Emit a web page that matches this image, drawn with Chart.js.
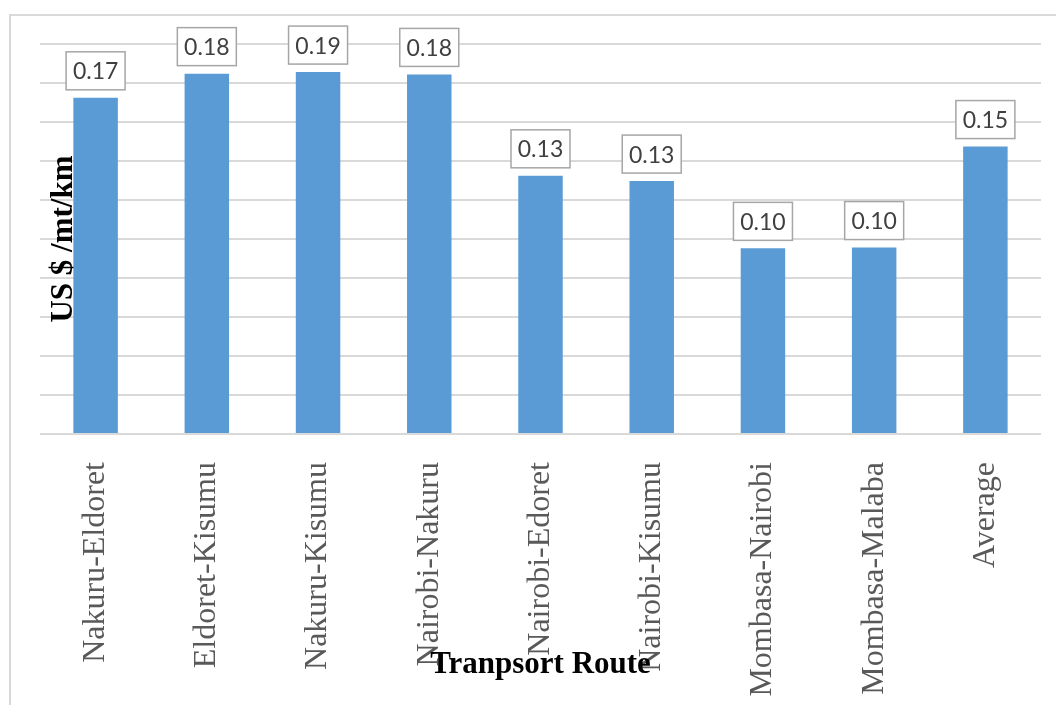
<!DOCTYPE html>
<html>
<head>
<meta charset="utf-8">
<title>Transport cost per route</title>
<script src="https://cdn.jsdelivr.net/npm/chart.js@4.4.1/dist/chart.umd.min.js"></script>
<style>
  html, body { margin: 0; padding: 0; background: #ffffff; }
  #wrap { width: 1056px; height: 705px; position: relative; }
</style>
</head>
<body>
<div id="wrap"><canvas id="chart" width="1056" height="705"></canvas></div>
<script>
// Transport routes and cost per tonne-kilometre (US$)
const routes = [
  'Nakuru-Eldoret', 'Eldoret-Kisumu', 'Nakuru-Kisumu', 'Nairobi-Nakuru',
  'Nairobi-Edoret', 'Nairobi-Kisumu', 'Mombasa-Nairobi', 'Mombasa-Malaba', 'Average'
];
const costPerTonneKm = [0.1724, 0.1848, 0.1856, 0.1844, 0.1324, 0.1297, 0.0952, 0.0956, 0.1474];
const yAxisTitle = 'US $ /mt/km';
const xAxisTitle = 'Tranpsort Route';

const SERIF = '"Liberation Serif", "Times New Roman", serif';

// Light frame around the whole figure
const framePlugin = {
  id: 'frame',
  beforeDraw(chart) {
    const ctx = chart.ctx;
    ctx.save();
    ctx.fillStyle = '#ffffff';
    ctx.fillRect(0, 0, chart.width, chart.height);
    ctx.strokeStyle = '#d9d9d9';
    ctx.lineWidth = 2;
    ctx.strokeRect(10, 15, chart.width + 20, chart.height + 20);
    ctx.restore();
  }
};

// Axis titles drawn inside the plot region
const titlesPlugin = {
  id: 'axisTitles',
  beforeDatasetsDraw(chart) {
    const ctx = chart.ctx;
    const area = chart.chartArea;
    ctx.save();
    ctx.font = 'bold 31px ' + SERIF;
    ctx.fillStyle = '#000000';
    ctx.textAlign = 'center';
    ctx.textBaseline = 'alphabetic';
    ctx.translate(72, (area.top + area.bottom) / 2);
    ctx.rotate(-Math.PI / 2);
    ctx.fillText(yAxisTitle, 0, 0);
    ctx.restore();
  },
  afterDraw(chart) {
    const ctx = chart.ctx;
    const area = chart.chartArea;
    ctx.save();
    ctx.font = 'bold 31px ' + SERIF;
    ctx.fillStyle = '#000000';
    ctx.textAlign = 'center';
    ctx.textBaseline = 'alphabetic';
    ctx.fillText(xAxisTitle, (area.left + area.right) / 2, 673);
    ctx.restore();
  }
};

// Boxed value labels above each bar
const valueLabelPlugin = {
  id: 'valueLabels',
  afterDatasetsDraw(chart) {
    const ctx = chart.ctx;
    const meta = chart.getDatasetMeta(0);
    const values = chart.data.datasets[0].data;
    ctx.save();
    meta.data.forEach((bar, i) => {
      const w = 59, h = 38, gap = 8;
      const left = bar.x - w / 2;
      const top = bar.y - gap - h;
      ctx.fillStyle = '#ffffff';
      ctx.fillRect(left, top, w, h);
      ctx.strokeStyle = '#a6a6a6';
      ctx.lineWidth = 1.5;
      ctx.strokeRect(left, top, w, h);
      ctx.fillStyle = '#404040';
      ctx.font = '23px Lato, "Open Sans", sans-serif';
      ctx.textAlign = 'center';
      ctx.textBaseline = 'middle';
      ctx.fillText(values[i].toFixed(2), bar.x, top + h / 2 + 1);
    });
    ctx.restore();
  }
};

new Chart(document.getElementById('chart'), {
  type: 'bar',
  data: {
    labels: routes,
    datasets: [{
      data: costPerTonneKm,
      backgroundColor: '#5b9bd5',
      borderWidth: 0,
      categoryPercentage: 1.0,
      barPercentage: 0.4
    }]
  },
  options: {
    responsive: false,
    animation: false,
    devicePixelRatio: 1,
    layout: { padding: { top: 44, left: 40, right: 15, bottom: 0 } },
    plugins: {
      legend: { display: false },
      tooltip: { enabled: false },
      title: { display: false }
    },
    scales: {
      x: {
        grid: { display: false, drawTicks: false },
        border: { display: false },
        ticks: {
          minRotation: 90,
          maxRotation: 90,
          autoSkip: false,
          padding: 28,
          color: '#595959',
          font: { family: SERIF, size: 32 }
        },
        afterFit(scale) { scale.height = 271; }
      },
      y: {
        min: 0,
        max: 0.2,
        ticks: { display: false, stepSize: 0.02 },
        grid: { color: '#d9d9d9', lineWidth: 2, drawTicks: false },
        border: { display: false },
        afterFit(scale) { scale.width = 0; }
      }
    }
  },
  plugins: [framePlugin, titlesPlugin, valueLabelPlugin]
});
</script>
</body>
</html>
